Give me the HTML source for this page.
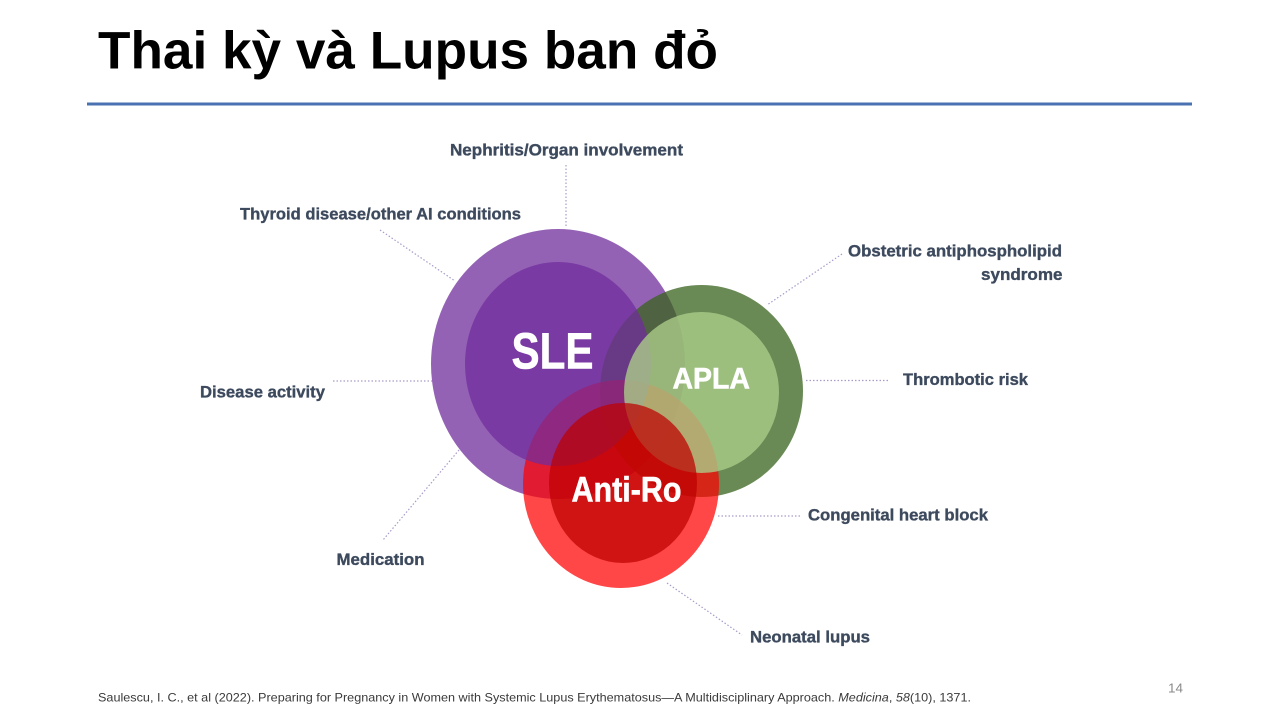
<!DOCTYPE html>
<html>
<head>
<meta charset="utf-8">
<style>
html,body{margin:0;padding:0;background:#fff;}
body{width:1280px;height:720px;overflow:hidden;}
svg{display:block;}
.lbl{font-family:"Liberation Sans",sans-serif;font-weight:bold;font-size:16.5px;fill:#3d4a5e;stroke:#3d4a5e;stroke-width:0.35;}
.ctr{font-family:"Liberation Sans",sans-serif;font-weight:bold;fill:#fff;stroke:#fff;stroke-width:0.6;}
.con{stroke:#a99bc9;stroke-width:1.2;stroke-dasharray:1.5 2;fill:none;}
</style>
</head>
<body>
<svg width="1280" height="720" viewBox="0 0 1280 720" xmlns="http://www.w3.org/2000/svg">
  <rect width="1280" height="720" fill="#fff"/>
  <!-- Title -->
  <text x="98" y="68.5" font-family="Liberation Sans, sans-serif" font-weight="bold" font-size="53" fill="#000" textLength="620" lengthAdjust="spacingAndGlyphs">Thai kỳ và Lupus ban đỏ</text>
  <rect x="87" y="102.5" width="1105" height="3" fill="#4a72b2"/>

  <!-- Connectors -->
  <line class="con" x1="566" y1="165" x2="566" y2="228"/>
  <line class="con" x1="380" y1="230" x2="455" y2="281"/>
  <line class="con" x1="842" y1="254" x2="767" y2="305"/>
  <line class="con" x1="806" y1="380.5" x2="890" y2="380.5"/>
  <line class="con" x1="333" y1="381" x2="432" y2="381"/>
  <line class="con" x1="459" y1="450" x2="383" y2="540"/>
  <line class="con" x1="718" y1="516" x2="800" y2="516"/>
  <line class="con" x1="667" y1="583" x2="742" y2="635"/>

  <!-- Outer rings -->
  <ellipse cx="558" cy="364" rx="127" ry="135" fill="#9462b5"/>
  <ellipse cx="701.5" cy="391" rx="101.5" ry="106" fill="#38631c" fill-opacity="0.75"/>
  <ellipse cx="621" cy="484" rx="98" ry="104" fill="#ff0000" fill-opacity="0.72"/>
  <!-- Inner circles -->
  <ellipse cx="558" cy="364" rx="93" ry="102" fill="#712d9d" fill-opacity="0.74"/>
  <ellipse cx="701.5" cy="392.5" rx="77.5" ry="80.5" fill="#aacc88" fill-opacity="0.8"/>
  <ellipse cx="623" cy="483" rx="74" ry="80" fill="#be0000" fill-opacity="0.72"/>

  <!-- Circle labels -->
  <text class="ctr" x="511.5" y="368.5" font-size="51" textLength="82" lengthAdjust="spacingAndGlyphs">SLE</text>
  <text class="ctr" x="672.5" y="388.5" font-size="30" textLength="77.5" lengthAdjust="spacingAndGlyphs">APLA</text>
  <text class="ctr" x="571.5" y="501.5" font-size="35" textLength="110" lengthAdjust="spacingAndGlyphs">Anti-Ro</text>

  <!-- Labels -->
  <text class="lbl" x="450" y="155.5" textLength="233" lengthAdjust="spacingAndGlyphs">Nephritis/Organ involvement</text>
  <text class="lbl" x="240" y="219.5" textLength="281" lengthAdjust="spacingAndGlyphs">Thyroid disease/other AI conditions</text>
  <text class="lbl" x="848" y="256.5" textLength="214" lengthAdjust="spacingAndGlyphs">Obstetric antiphospholipid</text>
  <text class="lbl" x="981" y="280" textLength="81.5" lengthAdjust="spacingAndGlyphs">syndrome</text>
  <text class="lbl" x="903" y="385" textLength="125" lengthAdjust="spacingAndGlyphs">Thrombotic risk</text>
  <text class="lbl" x="200" y="397.5" textLength="125" lengthAdjust="spacingAndGlyphs">Disease activity</text>
  <text class="lbl" x="336.5" y="565" textLength="88" lengthAdjust="spacingAndGlyphs">Medication</text>
  <text class="lbl" x="808" y="520.5" textLength="180" lengthAdjust="spacingAndGlyphs">Congenital heart block</text>
  <text class="lbl" x="750" y="642.5" textLength="120" lengthAdjust="spacingAndGlyphs">Neonatal lupus</text>

  <!-- Footer -->
  <text x="98" y="701.5" font-family="Liberation Sans, sans-serif" font-size="12" fill="#3a3a3a" textLength="873" lengthAdjust="spacingAndGlyphs">Saulescu, I. C., et al (2022). Preparing for Pregnancy in Women with Systemic Lupus Erythematosus—A Multidisciplinary Approach. <tspan font-style="italic">Medicina</tspan>, <tspan font-style="italic">58</tspan>(10), 1371.</text>
  <text x="1168" y="692.5" font-family="Liberation Sans, sans-serif" font-size="13" fill="#8a8a8a" textLength="15" lengthAdjust="spacingAndGlyphs">14</text>
</svg>
</body>
</html>
